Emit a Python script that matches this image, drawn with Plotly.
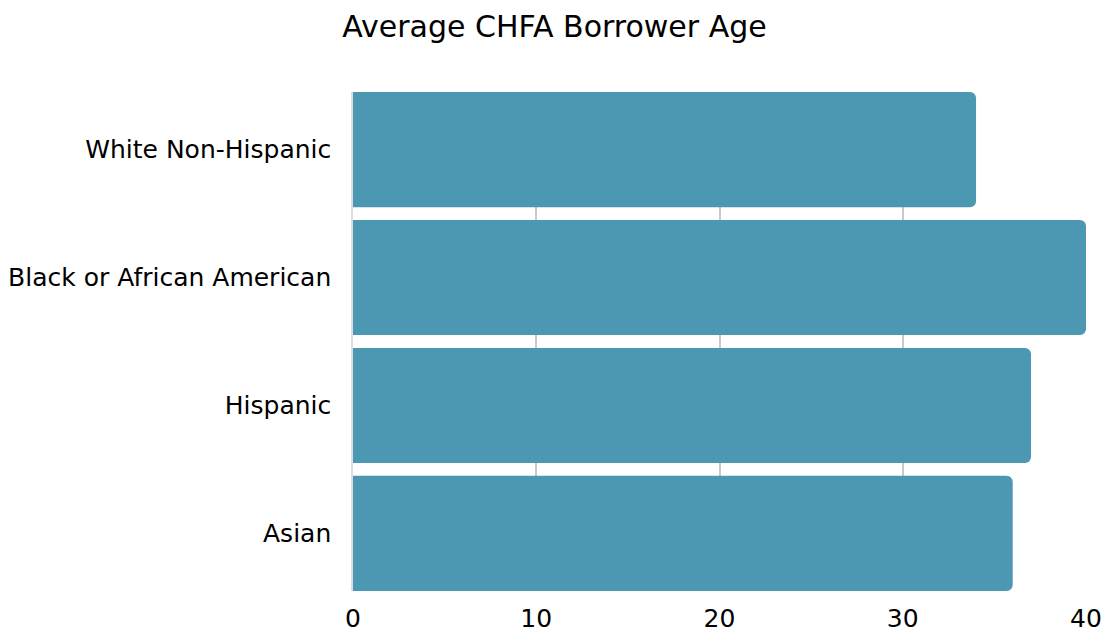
import plotly.graph_objects as go

categories = ["White Non-Hispanic", "Black or African American", "Hispanic", "Asian"]
ages = [34, 40, 37, 36]
x_ticks = [0, 10, 20, 30, 40]

FONT = "DejaVu Sans"

fig = go.Figure(go.Bar(
    y=categories, x=ages, orientation="h",
    marker=dict(color="#4C98B2", line=dict(width=0)),
    width=0.9,
))
fig.update_layout(
    width=1109, height=633,
    margin=dict(l=353, r=23, t=92, b=42, autoexpand=False),
    paper_bgcolor="white", plot_bgcolor="white",
    barcornerradius=6,
    showlegend=False,
    title=dict(text="Average CHFA Borrower Age", x=0.5, xanchor="center",
               y=1 - 26/633, yanchor="middle",
               font=dict(family=FONT, size=30, color="#000")),
    font=dict(family=FONT, color="#000"),
)
fig.update_xaxes(range=[0, 40], tickvals=x_ticks, showgrid=True, gridcolor="#c8c8c8",
                 gridwidth=1.5, zeroline=False, showline=False, automargin=False,
                 tickfont=dict(size=25, color="#000"), ticks="outside", ticklen=5,
                 tickcolor="rgba(0,0,0,0)")
fig.update_yaxes(range=[3.45, -0.45], showgrid=False, zeroline=False, automargin=False,
                 showline=True, linecolor="#dddddd", linewidth=1.5,
                 tickfont=dict(size=25, color="#000"), ticks="outside", ticklen=15,
                 tickcolor="rgba(0,0,0,0)")
fig.write_html("out.html")
